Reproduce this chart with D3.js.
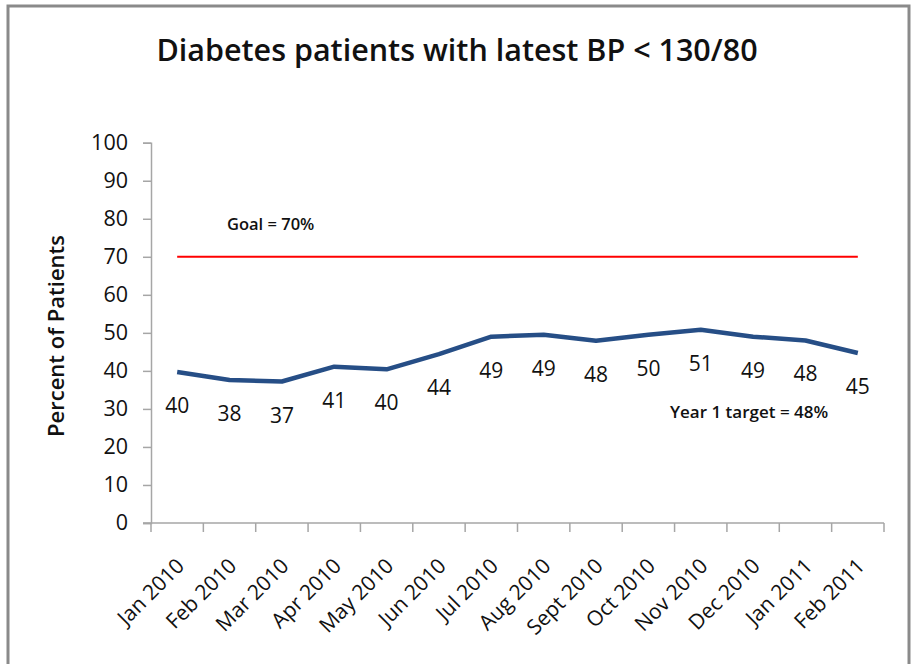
<!DOCTYPE html>
<meta charset="utf-8">
<script src="https://d3js.org/d3.v7.min.js"></script>
<style>
  body { margin: 0; background: #fff; }
  text { font-family: "Open Sans", sans-serif; fill: #111; }
</style>
<div id="chart"></div>
<script>

// data
var months = ["Jan 2010", "Feb 2010", "Mar 2010", "Apr 2010", "May 2010", "Jun 2010", "Jul 2010",
  "Aug 2010", "Sept 2010", "Oct 2010", "Nov 2010", "Dec 2010", "Jan 2011", "Feb 2011"];
var values = [39.7, 37.6, 37.2, 41.1, 40.4, 44.4, 49.0, 49.5, 47.9, 49.5, 50.8, 49.0, 48.0, 44.7];
var labels = ["40", "38", "37", "41", "40", "44", "49", "49", "48", "50", "51", "49", "48", "45"];
var yTicks = [0, 10, 20, 30, 40, 50, 60, 70, 80, 90, 100];
var goal = 70;

var W = 915, H = 664;
var svg = d3.select("#chart").append("svg")
  .attr("width", W)
  .attr("height", H);

// outer frame
svg.append("rect")
  .attr("x", 8).attr("y", 6)
  .attr("width", 901).attr("height", 700)
  .attr("fill", "#fff")
  .attr("stroke", "#8a8a8a")
  .attr("stroke-width", 3);

var x = d3.scaleBand()
  .domain(months)
  .range([151, 884]);

var y = d3.scaleLinear()
  .domain([0, 100])
  .range([523, 142.7]);

// y axis
var yAxis = svg.append("g")
  .attr("transform", "translate(151,0)")
  .call(d3.axisLeft(y).tickValues(yTicks).tickSize(8).tickPadding(15));
yAxis.select(".domain").attr("stroke", "#a6a6a6").attr("stroke-width", 1.5);
yAxis.selectAll(".tick line").attr("stroke", "#a6a6a6").attr("stroke-width", 1.5);
yAxis.selectAll(".tick text")
  .style("font-family", "Open Sans").style("font-size", "21.5px").attr("fill", "#111");

// x axis with ticks between categories
var xAxis = svg.append("g")
  .attr("transform", "translate(0,523)");
xAxis.append("line")
  .attr("x1", 143).attr("x2", 884)
  .attr("stroke", "#a6a6a6").attr("stroke-width", 1.5);
xAxis.selectAll(".xtick")
  .data(months.concat(["end"]))
  .enter()
  .append("line")
    .attr("x1", function(d, i) { return i < months.length ? x(d) : x.range()[1]; })
    .attr("x2", function(d, i) { return i < months.length ? x(d) : x.range()[1]; })
    .attr("y1", 0).attr("y2", 9)
    .attr("stroke", "#a6a6a6").attr("stroke-width", 1.5);

xAxis.selectAll(".xlab")
  .data(months)
  .enter()
  .append("text")
    .attr("transform", function(d) {
      return "translate(" + (x(d) + x.bandwidth() / 2 + 3) + ",39) rotate(-45)";
    })
    .attr("text-anchor", "end")
    .attr("dy", "0.35em")
    .style("font-size", "21px")
    .text(function(d) { return d; });

// goal line
svg.append("line")
  .attr("x1", x(months[0]) + x.bandwidth() / 2)
  .attr("x2", x(months[months.length - 1]) + x.bandwidth() / 2)
  .attr("y1", y(goal)).attr("y2", y(goal))
  .attr("stroke", "#ff0000")
  .attr("stroke-width", 2);

svg.append("text")
  .attr("x", 227).attr("y", 230)
  .style("font-size", "16.5px")
  .style("font-weight", 600)
  .text("Goal = 70%");

svg.append("text")
  .attr("x", 670).attr("y", 418)
  .style("font-size", "17px")
  .style("font-weight", 600)
  .text("Year 1 target = 48%");

// the series
var line = d3.line()
  .x(function(d, i) { return x(months[i]) + x.bandwidth() / 2; })
  .y(function(d) { return y(d); });

svg.append("path")
  .datum(values)
  .attr("d", line)
  .attr("fill", "none")
  .attr("stroke", "#264e86")
  .attr("stroke-width", 4.5)
  .attr("stroke-linejoin", "round");

svg.selectAll(".vlab")
  .data(values)
  .enter()
  .append("text")
    .attr("x", function(d, i) { return x(months[i]) + x.bandwidth() / 2; })
    .attr("y", function(d) { return y(d) + 41; })
    .attr("text-anchor", "middle")
    .style("font-size", "21px")
    .text(function(d, i) { return labels[i]; });

// titles
svg.append("text")
  .attr("x", 457).attr("y", 61)
  .attr("text-anchor", "middle")
  .style("font-size", "30.5px")
  .style("font-weight", 600)
  .text("Diabetes patients with latest BP < 130/80");

svg.append("text")
  .attr("transform", "translate(64,336) rotate(-90)")
  .attr("text-anchor", "middle")
  .style("font-size", "22px")
  .style("font-weight", 600)
  .text("Percent of Patients");

</script>
